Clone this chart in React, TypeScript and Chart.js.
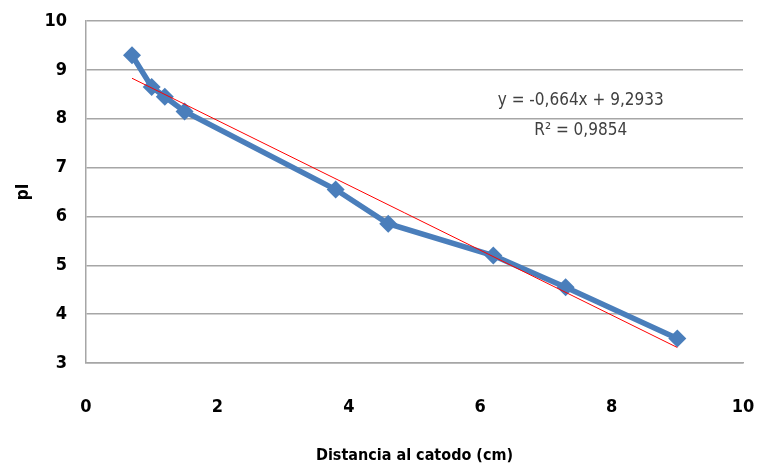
import { useEffect, useRef } from 'react';
import { Chart, registerables } from 'chart.js';

Chart.register(...registerables);

const distance = [0.7, 1.0, 1.2, 1.5, 3.8, 4.6, 6.2, 7.3, 9.0];
const pIValues = [9.3, 8.65, 8.45, 8.15, 6.55, 5.85, 5.2, 4.55, 3.5];
const trendSlope = -0.664;
const trendIntercept = 9.2933;
const equationLines = ['y = -0,664x + 9,2933', 'R² = 0,9854'];
const equationAnchors = [
  { x: 7.53, y: 8.38 },
  { x: 7.53, y: 7.75 },
];
const xAxisTitle = 'Distancia al catodo (cm)';
const yAxisTitle = 'pI';

const FONT = '"DejaVu Sans Condensed", "DejaVu Sans", sans-serif';

export default function App() {
  const ref = useRef<HTMLCanvasElement | null>(null);

  useEffect(() => {
    document.body.style.margin = '0';
    document.documentElement.style.overflow = 'hidden';
    if (!ref.current) return;
    const xs = [Math.min(...distance), Math.max(...distance)];
    const trend = xs.map((x) => ({ x, y: trendSlope * x + trendIntercept }));

    const equationPlugin = {
      id: 'equation',
      afterDatasetsDraw(chart: any) {
        const { ctx, scales } = chart;
        ctx.save();
        ctx.font = `17px ${FONT}`;
        ctx.fillStyle = '#404040';
        ctx.textAlign = 'center';
        ctx.textBaseline = 'middle';
        equationLines.forEach((t, i) => {
          const a = equationAnchors[i];
          ctx.fillText(t, scales.x.getPixelForValue(a.x), scales.y.getPixelForValue(a.y));
        });
        ctx.restore();
      },
    };

    const chart = new Chart(ref.current, {
      type: 'scatter',
      data: {
        datasets: [
          {
            label: 'Tendencia',
            data: trend,
            showLine: true,
            borderColor: '#ff0000',
            borderWidth: 1,
            pointRadius: 0,
            order: 0,
          },
          {
            label: 'pI',
            data: distance.map((x, i) => ({ x, y: pIValues[i] })),
            showLine: true,
            borderColor: '#4a7ebb',
            backgroundColor: '#4a7ebb',
            borderWidth: 5.5,
            pointStyle: 'rectRot',
            pointRadius: 9,
            pointBorderWidth: 0,
            order: 1,
          },
        ],
      },
      options: {
        animation: false,
        responsive: false,
        maintainAspectRatio: false,
        devicePixelRatio: 1,
        layout: { padding: { top: 21, right: 15, left: 0, bottom: 0 } },
        plugins: { legend: { display: false }, tooltip: { enabled: false } },
        scales: {
          x: {
            type: 'linear',
            min: 0,
            max: 10,
            ticks: {
              stepSize: 2,
              padding: 2,
              color: '#000',
              font: { family: FONT, size: 18, weight: 'bold' },
            },
            grid: { display: false, drawTicks: true, tickLength: 32 },
            border: { display: true, color: '#a6a6a6', width: 1.5 },
            title: {
              display: true,
              text: xAxisTitle,
              color: '#000',
              font: { family: FONT, size: 16, weight: 'bold' },
              padding: { top: 0, bottom: 9 },
            },
            afterFit(scale: any) {
              scale.height = 111;
            },
          },
          y: {
            type: 'linear',
            min: 3,
            max: 10,
            ticks: {
              stepSize: 1,
              padding: 2,
              color: '#000',
              font: { family: FONT, size: 18, weight: 'bold' },
            },
            grid: {
              color: '#a6a6a6',
              lineWidth: 1.5,
              drawTicks: true,
              tickLength: 17,
              tickColor: 'rgba(0,0,0,0)',
            },
            border: { display: true, color: '#a6a6a6', width: 1.5 },
            title: {
              display: true,
              text: yAxisTitle,
              color: '#000',
              font: { family: FONT, size: 17, weight: 'bold' },
              padding: { top: 13, bottom: 0 },
            },
            afterFit(scale: any) {
              scale.width = 86;
            },
          },
        },
      },
      plugins: [equationPlugin],
    });
    return () => chart.destroy();
  }, []);

  return (
    <div style={{ width: 758, height: 474, background: '#fff' }}>
      <canvas ref={ref} width={758} height={474} style={{ display: 'block' }} />
    </div>
  );
}
